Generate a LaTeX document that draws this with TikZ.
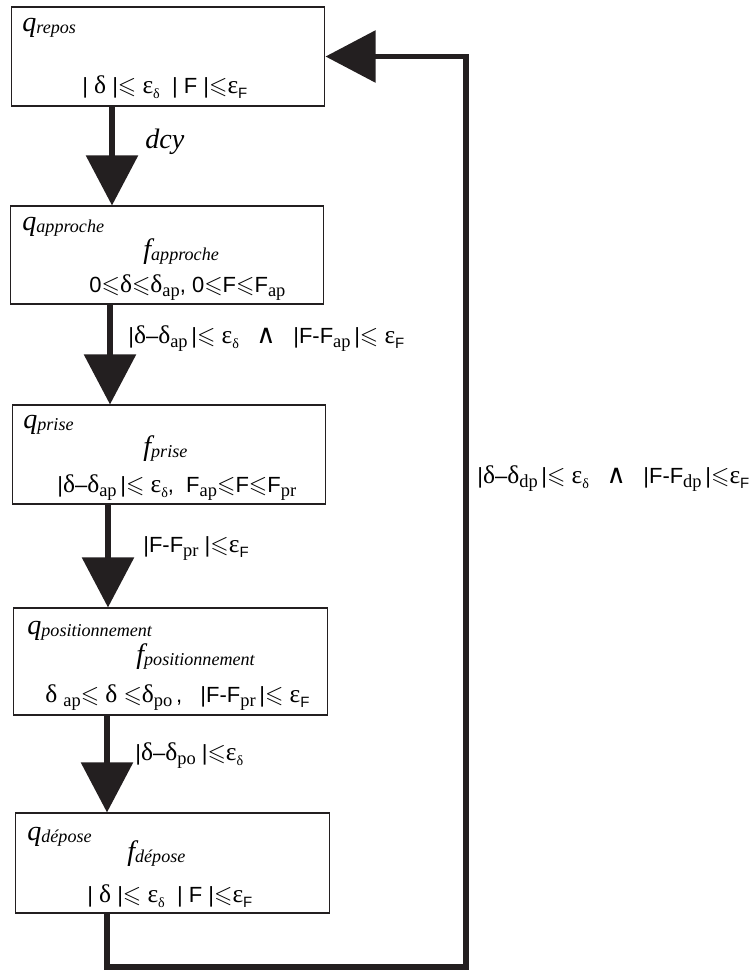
\documentclass[tikz,border=0pt]{standalone}
\usepackage{fontspec}
\usepackage{amssymb}
\setmainfont{Liberation Serif}
\newfontfamily\sansF{Liberation Sans}
\newfontfamily\dejavu{DejaVu Sans}
\usetikzlibrary{arrows.meta}

\definecolor{trait}{HTML}{231F20}

% state names (q, f) and the symbols of the conditions
\newcommand{\nomq}[2]{{\fontsize{16}{16}\selectfont\itshape #1}\raisebox{-1.5pt}{\fontsize{10.3}{11}\selectfont\itshape #2}}
\newcommand{\gdel}{{\fontsize{14.5}{14}\selectfont\rmfamily δ}}
\newcommand{\geps}{{\fontsize{14.5}{14}\selectfont\rmfamily ε}}
\newcommand{\ind}[1]{\raisebox{-2.5pt}{\fontsize{10.5}{10}\selectfont\rmfamily #1}}
\newcommand{\indd}{\raisebox{-3pt}{\fontsize{8}{8}\selectfont\rmfamily δ}}
\newcommand{\indF}{\raisebox{-3pt}{\fontsize{8.5}{8}\selectfont F}}
\newcommand{\infeg}{{\fontsize{13.5}{12}\selectfont$\leqslant$}}
\newcommand{\et}{\hspace{10pt}{\fontsize{15}{14}\selectfont\dejavu ∧}\hspace{10pt}}

\tikzset{
  etat/.style={draw=trait, line width=0.6pt, minimum width=6.28cm, inner sep=0pt},
  fleche/.style={draw=trait, line width=3.4pt, line join=miter,
    -{Triangle[width=29pt,length=28.5pt]}},
  titre/.style={anchor=base west, inner sep=0pt},
  cond/.style={anchor=base west, inner sep=0pt, font=\fontsize{12.5}{14}\selectfont\sansF}
}

\begin{document}
\begin{tikzpicture}[x=0.02cm, y=-0.02cm]
  \useasboundingbox (0,0) rectangle (749,971);

  % the five states
  \node[etat, minimum height=1.98cm] (repos) at (168,56.5) {};
  \node[etat, minimum height=1.96cm] (approche) at (167,255) {};
  \node[etat, minimum height=1.98cm] (prise) at (169,454.5) {};
  \node[etat, minimum height=2.14cm, minimum width=6.3cm] (position) at (170.5,661.5) {};
  \node[etat, minimum height=2cm, minimum width=6.3cm] (depose) at (172.5,863) {};

  % texts in the states
  \node[titre] (qrepos) at (22,31) {\nomq{q}{repos}};
  \node[cond] (crepos) at (82,93) {|\ \gdel\ |\infeg\ \geps\indd\ \ |\ F\ |\infeg\geps\indF};

  \node[titre] (qapproche) at (22,230) {\nomq{q}{approche}};
  \node[titre] (fapproche) at (143,258) {\nomq{f}{approche}};
  \node[cond] (capproche) at (89,292) {0\infeg\gdel\infeg\gdel\ind{ap}, 0\infeg F\infeg F\ind{ap}};

  \node[titre] (qprise) at (23,428) {\nomq{q}{prise}};
  \node[titre] (fprise) at (143,455) {\nomq{f}{prise}};
  \node[cond] (cprise) at (57,492) {|\gdel–\gdel\ind{ap}\,|\infeg\ \geps\indd, \ F\ind{ap}\infeg F\infeg F\ind{pr}};

  \node[titre] (qposition) at (27,634) {\nomq{q}{positionnement}};
  \node[titre] (fposition) at (136,663) {\nomq{f}{positionnement}};
  \node[cond] (cposition) at (45,702) {\gdel\ \ind{ap}\infeg\ \gdel\ \infeg\gdel\ind{po}\,, \ \ |F-F\ind{pr}\,|\infeg\ \geps\indF};

  \node[titre] (qdepose) at (27,840) {\nomq{q}{dépose}};
  \node[titre] (fdepose) at (127,860) {\nomq{f}{dépose}};
  \node[cond] (cdepose) at (87,902) {|\ \gdel\ |\infeg\ \geps\indd\ \ |\ F\ |\infeg\geps\indF};

  % transitions
  \draw[fleche] (repos.south -| 112,0) -- (approche.north -| 112,0);
  \node[titre] (dcy) at (145,148) {\fontsize{16}{16}\selectfont\itshape dcy};

  \draw[fleche] (approche.south -| 110,0) -- (prise.north -| 110,0);
  \node[cond] (garde2) at (128,343) {|\gdel–\gdel\ind{ap}\,|\infeg\ \geps\indd\et|F-F\ind{ap}\,|\infeg\ \geps\indF};

  \draw[fleche] (prise.south -| 108,0) -- (position.north -| 108,0);
  \node[cond] (garde3) at (143,552) {|F-F\ind{pr}\ |\infeg\geps\indF};

  \draw[fleche] (position.south -| 107,0) -- (depose.north -| 107,0);
  \node[cond] (garde4) at (135,760) {|\gdel–\gdel\ind{po}\ |\infeg\geps\indd};

  % back to the rest state
  \coordinate (coin) at (466,967);
  \draw[fleche] (depose.south -| 107,0) |- (coin) |- (repos.east);
  \node[cond] (garde5) at (477,483) {|\gdel–\gdel\ind{dp}\,|\infeg\ \geps\indd\et|F-F\ind{dp}\,|\infeg\geps\indF};
\end{tikzpicture}
\end{document}
